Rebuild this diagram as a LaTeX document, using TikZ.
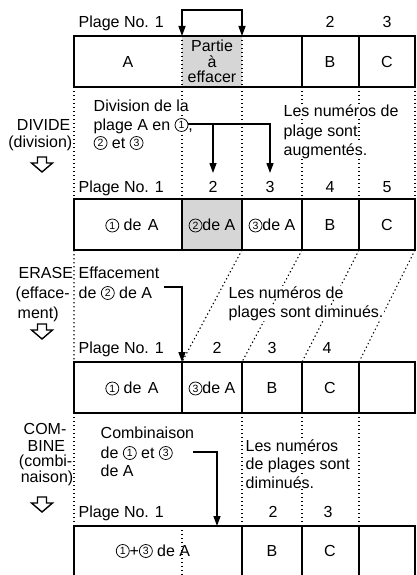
\documentclass[tikz,border=0pt]{standalone}
\usepackage{fontspec}
\setmainfont{Liberation Sans}
\usetikzlibrary{arrows.meta}
\newcommand{\cnum}[1]{\tikz[baseline={([yshift=-5pt]cn.center)}]\node[draw,circle,line width=0.75pt,inner sep=0pt,minimum size=13pt,font=\fontsize{10.5}{10.5}\selectfont](cn){#1};}
\begin{document}
\begin{tikzpicture}[x=1pt,y=-1pt,
  font=\fontsize{16}{18}\selectfont,
  boxline/.style={line width=1.6pt},
  dotline/.style={line width=1.1pt,dash pattern=on 1.3pt off 2.7pt},
  conn/.style={line width=1.3pt},
  >={Triangle[length=10pt,width=7pt]},
  txt/.style={inner sep=0.5pt,anchor=base west},
  ctxt/.style={inner sep=0.5pt,anchor=base},
  rtxt/.style={inner sep=0.5pt,anchor=base east},
  wb/.style={fill=white},
  shade/.style={fill=black!16},
  holl/.pic={\draw[line width=1.4pt,line join=miter] (-4.5,0)--(4.5,0)--(4.5,6)--(10.5,6)--(0,15)--(-10.5,6)--(-4.5,6)--cycle;}
]
\useasboundingbox (0,0) rectangle (416,575);
\clip (0,0) rectangle (416,575);

% ---------- Row 1
\fill[shade] (182,36) rectangle (242,87);
\draw[boxline] (74,36) rectangle (415,87);
\draw[boxline] (302,36) -- (302,87) (359,36) -- (359,87);
\draw[dotline] (182,36) -- (182,87) (242,36) -- (242,87);
\node[txt] (p1) at (78,28) {Plage No. 1};
\node[ctxt] (p1n2) at (330,28) {2};
\node[ctxt] (p1n3) at (387,28) {3};
\node[ctxt] (a1) at (128,68) {A};
\node[ctxt] (pa1) at (212,52) {Partie};
\node[ctxt] (pa2) at (212,67.5) {à};
\node[ctxt] (pa3) at (212,82.5) {effacer};
\node[ctxt] (b1) at (330,68) {B};
\node[ctxt] (c1) at (387,68) {C};
\coordinate (r1a) at (182,36);
\coordinate (r1b) at (242,36);
\draw[conn,<->] (r1a) -- (182,10) -- (242,10) -- (r1b);

% ---------- between box 1 and box 2
\draw[dotline] (74,87)--(74,199) (182,87)--(182,199) (242,87)--(242,199)
  (302,87)--(302,199) (359,87)--(359,199) (415,87)--(415,199);
\node[rtxt] (dv1) at (71,131) {DIVIDE};
\node[rtxt] (dv2) at (73,147) {(division)};
\pic at (42,157) {holl};
\node[txt,wb] (dt1) at (93,112) {Division de la};
\node[txt,wb] (dt2) at (93,130) {plage A en \cnum{1},};
\node[txt] (dt3) at (93,148) {\cnum{2} et \cnum{3}};
\node[txt,wb] (du1) at (283,117) {Les numéros de};
\node[txt,wb] (du2) at (283,136) {plage sont};
\node[txt,wb] (du3) at (283,155) {augmentés.};
\coordinate (d1) at (188,124);
\coordinate (t2) at (213,173);
\coordinate (t3) at (270,173);
\draw[conn,->] (d1) -| (t3);
\draw[conn,->] (t2 |- d1) -- (t2);

% ---------- Row 2
\node[txt] (p2) at (78,192) {Plage No. 1};
\node[ctxt] (p2n2) at (213,192) {2};
\node[ctxt] (p2n3) at (270,192) {3};
\node[ctxt] (p2n4) at (330,192) {4};
\node[ctxt] (p2n5) at (387,192) {5};
\fill[shade] (182,199) rectangle (242,250);
\draw[boxline] (74,199) rectangle (415,250);
\draw[boxline] (182,199)--(182,250) (242,199)--(242,250) (302,199)--(302,250) (359,199)--(359,250);
\node[ctxt] (a2a) at (132,230.5) {\cnum{1} de\hspace{2pt} A};
\node[ctxt] (a2b) at (212,230.5) {\cnum{2}de A};
\node[ctxt] (a2c) at (272,230.5) {\cnum{3}de A};
\node[ctxt] (b2) at (330,230.5) {B};
\node[ctxt] (c2) at (387,230.5) {C};

% ---------- between box 2 and box 3
\draw[dotline] (74,250)--(74,362) (242,250)--(182,362) (302,250)--(242,362)
  (359,250)--(302,362) (415,250)--(359,362);
\node[txt] (er1) at (18,278) {ERASE};
\node[txt] (er2) at (15,298) {(efface-};
\node[txt] (er3) at (17,318) {ment)};
\pic at (42,324) {holl};
\node[txt] (et1) at (78,278) {Effacement};
\node[txt] (et2) at (78,298) {de \cnum{2} de A};
\node[txt,wb] (eu1) at (228,298) {Les numéros de};
\node[txt,wb] (eu2) at (228,317) {plages sont diminués.};
\coordinate (e1) at (164,287);
\coordinate (e2) at (182,362);
\draw[conn,->] (e1) -| (e2);

% ---------- Row 3
\node[txt] (p3) at (78,353) {Plage No. 1};
\node[ctxt] (p3n2) at (217,353) {2};
\node[ctxt] (p3n3) at (272,353) {3};
\node[ctxt] (p3n4) at (327,353) {4};
\draw[boxline] (74,362) rectangle (415,413);
\draw[boxline] (182,362)--(182,413) (242,362)--(242,413) (302,362)--(302,413) (359,362)--(359,413);
\node[ctxt] (a3a) at (132,393.5) {\cnum{1} de\hspace{2pt} A};
\node[ctxt] (a3c) at (212,393.5) {\cnum{3}de A};
\node[ctxt] (b3) at (272,393.5) {B};
\node[ctxt] (c3) at (330,393.5) {C};

% ---------- between box 3 and box 4
\draw[dotline] (74,413)--(74,526) (242,413)--(242,526) (302,413)--(302,526) (359,413)--(359,526);
\node[txt] (cb1) at (23,434.5) {COM-};
\node[txt] (cb2) at (27,451) {BINE};
\node[rtxt] (cb3) at (73,466) {(combi-};
\node[rtxt] (cb4) at (74,482.5) {naison)};
\pic at (42,497) {holl};
\node[txt] (ct1) at (100,438) {Combinaison};
\node[txt] (ct2) at (100,458) {de \cnum{1} et \cnum{3}};
\node[txt] (ct3) at (100,476) {de A};
\node[txt,wb] (cu1) at (245,451) {Les numéros};
\node[txt,wb] (cu2) at (245,469) {de plages sont};
\node[txt,wb] (cu3) at (245,488) {diminués.};
\coordinate (k1) at (193,452);
\coordinate (k2) at (217,526);
\draw[conn,->] (k1) -| (k2);

% ---------- Row 4
\node[txt] (p4) at (78,517) {Plage No. 1};
\node[ctxt] (p4n2) at (273,517) {2};
\node[ctxt] (p4n3) at (328,517) {3};
\draw[boxline] (74,526) rectangle (415,577);
\draw[boxline] (242,526)--(242,577) (302,526)--(302,577) (359,526)--(359,577);
\draw[dotline] (182,526)--(182,577);
\node[ctxt] (a4) at (153,556) {\cnum{1}+\cnum{3} de A};
\node[ctxt] (b4) at (272,556) {B};
\node[ctxt] (c4) at (330,556) {C};
\end{tikzpicture}
\end{document}
